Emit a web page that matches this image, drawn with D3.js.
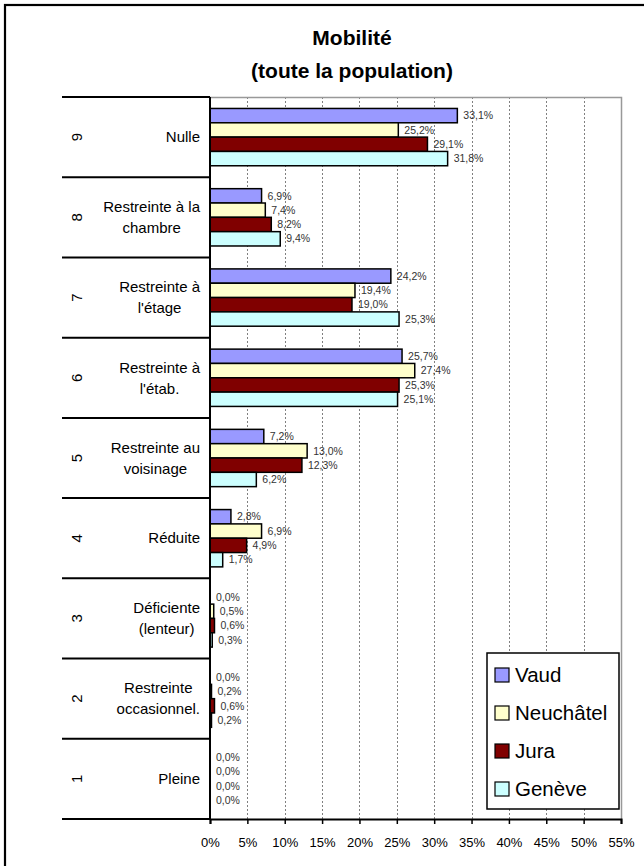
<!DOCTYPE html>
<html><head><meta charset="utf-8">
<script src="https://cdn.jsdelivr.net/npm/d3@7"></script>
<style>
html,body{margin:0;padding:0;background:#fff;}
svg{display:block;font-family:"Liberation Sans",Arial,sans-serif;}
</style></head>
<body>
<svg id="chart" width="644" height="866"></svg>
<script>
// ---- data ----
const categoryCodes = ["9","8","7","6","5","4","3","2","1"];
const categoryLabels = [
  ["Nulle"],
  ["Restreinte à la","chambre"],
  ["Restreinte à","l'étage"],
  ["Restreinte à","l'étab."],
  ["Restreinte au","voisinage"],
  ["Réduite"],
  ["Déficiente","(lenteur)"],
  ["Restreinte","occasionnel."],
  ["Pleine"]
];
const seriesNames = ["Vaud","Neuchâtel","Jura","Genève"];
const vaud      = [33.1, 6.9, 24.2, 25.7,  7.2, 2.8, 0.0, 0.0, 0.0];
const neuchatel = [25.2, 7.4, 19.4, 27.4, 13.0, 6.9, 0.5, 0.2, 0.0];
const jura      = [29.1, 8.2, 19.0, 25.3, 12.3, 4.9, 0.6, 0.6, 0.0];
const geneve    = [31.8, 9.4, 25.3, 25.1,  6.2, 1.7, 0.3, 0.2, 0.0];
const seriesColors = ["#9999FF","#FFFFCC","#800000","#CCFFFF"];
const xTicks = [0,5,10,15,20,25,30,35,40,45,50,55];
const titleLines = ["Mobilité","(toute la population)"];

const seriesValues = [vaud, neuchatel, jura, geneve];

// ---- layout ----
const svg = d3.select("#chart");
const plot = {left:210, right:621, top:97, bottom:819};

svg.append("rect").attr("x",5).attr("y",5).attr("width",660).attr("height",880)
  .attr("fill","#fff").attr("stroke","#000").attr("stroke-width",2.2);

// title
svg.append("text").attr("x",352).attr("y",45).attr("text-anchor","middle")
  .attr("font-weight","bold").attr("font-size",21).text(titleLines[0]);
svg.append("text").attr("x",352).attr("y",78).attr("text-anchor","middle")
  .attr("font-weight","bold").attr("font-size",21).text(titleLines[1]);

const x = d3.scaleLinear().domain([0,55]).range([plot.left, plot.right]);
const y = d3.scaleBand().domain(categoryCodes).range([plot.top, plot.bottom]).padding(0);
const ys = d3.scaleBand().domain(seriesNames).range([0, y.bandwidth()]).paddingInner(0).paddingOuter(0.8);

// gridlines
svg.append("g").selectAll("line").data(xTicks.filter(t=>t>0 && t<55)).join("line")
  .attr("x1",d=>Math.round(x(d))+0.5).attr("x2",d=>Math.round(x(d))+0.5)
  .attr("y1",plot.top).attr("y2",plot.bottom)
  .attr("stroke","#808080").attr("stroke-width",1).attr("stroke-dasharray","2,2");

// plot border (top/right gray)
svg.append("path").attr("d",`M${plot.left},${plot.top+0.5}H${plot.right+0.5}V${plot.bottom}`)
  .attr("fill","none").attr("stroke","#999").attr("stroke-width",1.5);

// bars
const rows = [];
categoryCodes.forEach((c,i)=>{
  seriesNames.forEach((s,j)=>{
    rows.push({cat:c, ser:s, v:seriesValues[j][i], color:seriesColors[j]});
  });
});
svg.append("g").selectAll("rect").data(rows).join("rect")
  .attr("x",x(0)).attr("y",d=>y(d.cat)+ys(d.ser))
  .attr("width",d=>x(d.v)-x(0)).attr("height",ys.bandwidth())
  .attr("fill",d=>d.color).attr("stroke","#000").attr("stroke-width",1.5);

// value labels
svg.append("g").selectAll("text").data(rows).join("text")
  .attr("x",d=>x(d.v)+6).attr("y",d=>y(d.cat)+ys(d.ser)+ys.bandwidth()/2)
  .attr("dy","0.35em").attr("font-size",10.5).attr("fill","#333")
  .text(d=>d3.format(".1f")(d.v).replace(".",",")+"%");

// x axis
const xAxis = d3.axisBottom(x).tickValues(xTicks).tickFormat(d=>d+"%").tickSize(5).tickPadding(14);
const gx = svg.append("g").attr("transform",`translate(0,${plot.bottom})`).call(xAxis);
gx.select(".domain").attr("stroke","#000").attr("stroke-width",2);
gx.selectAll(".tick line").attr("stroke","#000").attr("stroke-width",1.5);
gx.selectAll(".tick text").attr("font-size",13).attr("font-family","'Liberation Sans',Arial,sans-serif").attr("fill","#000");

// left axis line
svg.append("line").attr("x1",plot.left).attr("x2",plot.left).attr("y1",plot.top).attr("y2",plot.bottom+1)
  .attr("stroke","#000").attr("stroke-width",2);

// category separators
const seps = categoryCodes.map(c=>y(c)).concat([plot.bottom]);
svg.append("g").selectAll("line").data(seps).join("line")
  .attr("x1",62).attr("x2",plot.left).attr("y1",d=>d).attr("y2",d=>d)
  .attr("stroke","#000").attr("stroke-width",2);

// category codes (rotated)
svg.append("g").selectAll("text").data(categoryCodes).join("text")
  .attr("transform",d=>`translate(77,${y(d)+y.bandwidth()/2}) rotate(-90)`)
  .attr("text-anchor","middle").attr("dy","0.35em").attr("font-size",15).text(d=>d);

// category labels
const lblG = svg.append("g");
categoryCodes.forEach((c,i)=>{
  const lines = categoryLabels[i];
  const g = lblG.append("g");
  const lh = 21;
  const cy = y(c)+y.bandwidth()/2;
  const ts = lines.map((l,k)=> g.append("text")
    .attr("y", cy + (k-(lines.length-1)/2)*lh).attr("dy","0.35em")
    .attr("font-size",15).attr("text-anchor","middle").text(l));
  const maxW = d3.max(ts, t=>t.node().getComputedTextLength());
  ts.forEach(t=>t.attr("x", 200 - maxW/2));
});

// legend
const lg = svg.append("g");
lg.append("rect").attr("x",487).attr("y",653).attr("width",132).attr("height",156)
  .attr("fill","#fff").attr("stroke","#000").attr("stroke-width",1.5);
const ly = d3.scalePoint().domain(seriesNames).range([675,789]);
seriesNames.forEach((s,j)=>{
  lg.append("rect").attr("x",495).attr("y",ly(s)-7).attr("width",14).attr("height",14)
    .attr("fill",seriesColors[j]).attr("stroke","#000").attr("stroke-width",1.2);
  lg.append("text").attr("x",515).attr("y",ly(s)).attr("dy","0.35em")
    .attr("font-size",20.5).text(s);
});
</script>
</body></html>
